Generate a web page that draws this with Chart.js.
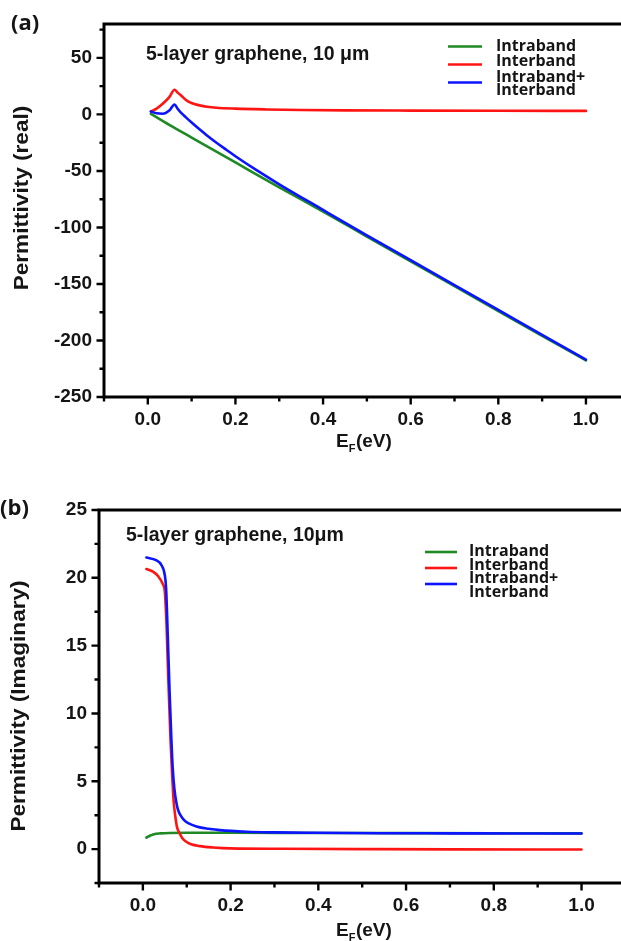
<!DOCTYPE html>
<html>
<head>
<meta charset="utf-8">
<script src="https://cdn.jsdelivr.net/npm/chart.js@4.4.1/dist/chart.umd.min.js"></script>
<style>
  html, body { margin: 0; padding: 0; background: #fff; }
  #wrap { position: relative; width: 621px; height: 941px; overflow: hidden; }
  canvas { position: absolute; left: 0; }
</style>
</head>
<body>
<div id="wrap">
  <canvas id="realChart" width="621" height="470" style="top:0"></canvas>
  <canvas id="imagChart" width="621" height="471" style="top:470px"></canvas>
</div>
<script>
// ---------- series names ----------
const seriesLabels = ['Intraband', 'Interband', ['Intraband+', 'Interband']];
const seriesColors = ['#1f8a24', '#ff1414', '#0a14ff'];

// ---------- (a) real part of permittivity vs E_F ----------
const realIntraE = [0.007, 0.05, 0.1, 0.2, 0.3, 0.4, 0.5, 0.6, 0.7, 0.8, 0.9, 1.0];
const realIntraV = [0.5, -9.5, -20.5, -42.5, -64.5, -86, -108, -130, -152, -174, -196, -217.5];

const realInterE = [0.007, 0.02, 0.034, 0.049, 0.061, 0.068, 0.076, 0.085, 0.095, 0.106, 0.118, 0.135, 0.156, 0.2, 0.27, 0.35, 0.45, 0.6, 0.8, 1.0];
const realInterV = [2.6, 5.2, 9.4, 15.3, 21.8, 19.3, 16.8, 13.5, 10.9, 9.2, 8.0, 6.8, 5.9, 5.1, 4.4, 3.9, 3.6, 3.4, 3.2, 3.1];

const realTotalE = [0.007, 0.02, 0.034, 0.049, 0.061, 0.068, 0.075, 0.087, 0.1, 0.118, 0.135, 0.156, 0.18, 0.2, 0.25, 0.3, 0.4, 0.5, 0.6, 0.7, 0.8, 0.9, 1.0];
const realTotalV = [2.6, 1.0, 0.6, 3.5, 8.8, 5.0, 1.8, -2.6, -7.2, -13.2, -18.6, -24.8, -31.5, -37.0, -49.8, -61.8, -84.5, -107.0, -129.0, -151.0, -173.0, -195.0, -217.0];

const realYTicks = [-250, -200, -150, -100, -50, 0, 50];
const realYMinor = [-225, -175, -125, -75, -25, 25, 75];

// ---------- (b) imaginary part of permittivity vs E_F ----------
const imagIntraE = [0.008, 0.012, 0.017, 0.025, 0.04, 0.06, 0.1, 0.2, 0.4, 0.6, 0.8, 1.0];
const imagIntraV = [0.85, 0.92, 1.0, 1.1, 1.16, 1.19, 1.2, 1.2, 1.19, 1.18, 1.17, 1.16];

const imagInterE = [0.008, 0.023, 0.034, 0.046, 0.05, 0.054, 0.058, 0.063, 0.066, 0.07, 0.074, 0.078, 0.084, 0.09, 0.099, 0.11, 0.13, 0.16, 0.2, 0.32, 0.5, 0.7, 1.0];
const imagInterV = [20.65, 20.45, 20.15, 19.5, 19.0, 16.5, 12.5, 8.1, 6.0, 3.6, 2.4, 1.6, 1.15, 0.8, 0.54, 0.36, 0.22, 0.12, 0.05, 0.02, 0.0, -0.02, -0.03];

const imagTotalE = [0.008, 0.03, 0.042, 0.05, 0.053, 0.057, 0.061, 0.065, 0.068, 0.072, 0.076, 0.08, 0.09, 0.099, 0.115, 0.13, 0.15, 0.175, 0.236, 0.3, 0.39, 0.54, 0.7, 0.85, 1.0];
const imagTotalV = [21.5, 21.3, 20.95, 20.2, 19.2, 15.5, 11.5, 8.1, 6.0, 4.4, 3.5, 2.9, 2.3, 2.0, 1.75, 1.6, 1.5, 1.4, 1.28, 1.23, 1.2, 1.17, 1.16, 1.15, 1.15];

const imagYTicks = [0, 5, 10, 15, 20, 25];
const imagYMinor = [-2.5, 2.5, 7.5, 12.5, 17.5, 22.5];

// ---------- shared x axis ticks ----------
const efTicks = [0.0, 0.2, 0.4, 0.6, 0.8, 1.0];
const efMinor = [-0.1, 0.1, 0.3, 0.5, 0.7, 0.9];

const SANS = "'Liberation Sans', Arial, Helvetica, sans-serif";
const LEGEND_FONT = "'Open Sans', 'Noto Sans', sans-serif";
const TEXT = '#151515';

function pts(xs, ys) { return xs.map((x, i) => ({ x, y: ys[i] })); }

function makeDatasets(sets) {
  return sets.map((s, i) => ({
    label: Array.isArray(seriesLabels[i]) ? seriesLabels[i].join(' ') : seriesLabels[i],
    data: pts(s[0], s[1]),
    borderColor: seriesColors[i],
    borderWidth: 2.6,
    pointRadius: 0,
    fill: false,
    cubicInterpolationMode: 'monotone',
    order: 2 - i
  }));
}

// Draws axes frame, tick marks, titles, annotation and legend
function decorPlugin(o) {
  return {
    id: 'decor',
    afterDraw(chart) {
      const { ctx, chartArea: a, scales: { x, y } } = chart;
      ctx.save();
      ctx.strokeStyle = '#000';
      ctx.lineCap = 'butt';
      // frame: left axis, bottom axis, top border
      ctx.lineWidth = 3;
      ctx.beginPath();
      ctx.moveTo(a.left, a.top - 1.5); ctx.lineTo(a.left, a.bottom + 1.5);
      ctx.moveTo(a.left - 1.5, a.bottom); ctx.lineTo(a.right + 2, a.bottom);
      ctx.moveTo(a.left - 1.5, a.top); ctx.lineTo(a.right + 2, a.top);
      ctx.stroke();
      // tick marks (outward)
      ctx.lineWidth = 2.4;
      ctx.beginPath();
      o.xMajor.forEach(v => { const p = x.getPixelForValue(v); ctx.moveTo(p, a.bottom); ctx.lineTo(p, a.bottom + 7.5); });
      o.xMinor.forEach(v => { const p = x.getPixelForValue(v); ctx.moveTo(p, a.bottom); ctx.lineTo(p, a.bottom + 4.5); });
      o.yMajor.forEach(v => { const p = y.getPixelForValue(v); ctx.moveTo(a.left, p); ctx.lineTo(a.left - 7.5, p); });
      o.yMinor.forEach(v => { const p = y.getPixelForValue(v); ctx.moveTo(a.left, p); ctx.lineTo(a.left - 4.5, p); });
      ctx.stroke();

      ctx.fillStyle = TEXT;
      // y title (slightly stretched along its baseline)
      ctx.save();
      ctx.translate(o.yTitle.x, o.yTitle.y);
      ctx.rotate(-Math.PI / 2);
      ctx.scale(1.13, 1);
      ctx.font = 'bold 20px ' + SANS;
      ctx.textAlign = 'center';
      ctx.textBaseline = 'middle';
      ctx.fillText(o.yTitle.text, 0, 0);
      ctx.restore();

      // x title: E_F(eV)
      ctx.textBaseline = 'alphabetic';
      ctx.textAlign = 'left';
      let tx = o.xTitle.x;
      const ty = o.xTitle.y;
      ctx.font = 'bold 19px ' + SANS;
      ctx.fillText('E', tx, ty); tx += ctx.measureText('E').width;
      ctx.font = 'bold 11px ' + SANS;
      ctx.fillText('F', tx, ty + 5); tx += ctx.measureText('F').width + 0.5;
      ctx.font = 'bold 19px ' + SANS;
      ctx.fillText('(eV)', tx, ty);

      // annotation
      ctx.font = 'bold 19.5px ' + SANS;
      ctx.fillText(o.note.text, o.note.x, o.note.y);

      // panel label
      ctx.font = 'bold 22px ' + LEGEND_FONT;
      ctx.fillText(o.panel.text, o.panel.x, o.panel.y);

      // legend
      ctx.font = 'bold 16px ' + LEGEND_FONT;
      const L = o.legend;
      chart.data.datasets.forEach((ds, i) => {
        ctx.strokeStyle = ds.borderColor;
        ctx.lineWidth = 2.6;
        ctx.beginPath();
        ctx.moveTo(L.x0, L.lineY[i]); ctx.lineTo(L.x1, L.lineY[i]);
        ctx.stroke();
      });
      const lines = [].concat(...seriesLabels.map(s => Array.isArray(s) ? s : [s]));
      lines.forEach((t, k) => ctx.fillText(t, L.tx, L.textY[k]));
      ctx.restore();
    }
  };
}

function makeChart(id, sets, o) {
  return new Chart(document.getElementById(id), {
    type: 'line',
    data: { datasets: makeDatasets(sets) },
    options: {
      responsive: false,
      animation: false,
      devicePixelRatio: 1,
      layout: { padding: { top: o.padTop, right: 0, left: 0, bottom: 0 } },
      plugins: { legend: { display: false }, tooltip: { enabled: false } },
      elements: { line: { borderJoinStyle: 'round', borderCapStyle: 'round' } },
      scales: {
        x: {
          type: 'linear', min: -0.1, max: o.xMax,
          grid: { display: false, drawTicks: false },
          border: { display: false },
          afterBuildTicks: s => { s.ticks = efTicks.map(v => ({ value: v })); },
          afterFit: s => { s.height = o.xAxisH; },
          ticks: {
            padding: 11, maxRotation: 0,
            color: TEXT,
            font: { family: SANS, size: 19, weight: 'bold' },
            callback: v => Number(v).toFixed(1)
          }
        },
        y: {
          type: 'linear', min: o.yMin, max: o.yMax,
          grid: { display: false, drawTicks: false },
          border: { display: false },
          afterBuildTicks: s => { s.ticks = o.yMajor.map(v => ({ value: v })); },
          afterFit: s => { s.width = o.yAxisW; },
          ticks: {
            padding: 12,
            color: TEXT,
            font: { family: SANS, size: 19, weight: 'bold' },
            callback: v => String(v)
          }
        }
      }
    },
    plugins: [decorPlugin(o)]
  });
}

makeChart('realChart',
  [[realIntraE, realIntraV], [realInterE, realInterV], [realTotalE, realTotalV]],
  {
    padTop: 24, xAxisH: 73, yAxisW: 104, xMax: 1.08, yMin: -250, yMax: 80,
    xMajor: efTicks, xMinor: efMinor, yMajor: realYTicks, yMinor: realYMinor,
    yTitle: { text: 'Permittivity (real)', x: 22, y: 198 },
    xTitle: { x: 336, y: 447 },
    note: { text: '5-layer graphene, 10 \u03bcm', x: 146, y: 60 },
    panel: { text: '(a)', x: 11, y: 30 },
    legend: { x0: 448, x1: 482, lineY: [46.5, 64.5, 82.5], tx: 496, textY: [51, 66, 82, 95] }
  });

makeChart('imagChart',
  [[imagIntraE, imagIntraV], [imagInterE, imagInterV], [imagTotalE, imagTotalV]],
  {
    padTop: 40, xAxisH: 58, yAxisW: 99, xMax: 1.09, yMin: -2.5, yMax: 25,
    xMajor: efTicks, xMinor: efMinor, yMajor: imagYTicks, yMinor: imagYMinor,
    yTitle: { text: 'Permittivity (Imaginary)', x: 19, y: 236 },
    xTitle: { x: 336, y: 466 },
    note: { text: '5-layer graphene, 10\u03bcm', x: 126, y: 71 },
    panel: { text: '(b)', x: 0, y: 45 },
    legend: { x0: 425, x1: 457, lineY: [82, 98, 114], tx: 469, textY: [86, 99.5, 113, 127] }
  });
</script>
</body>
</html>
